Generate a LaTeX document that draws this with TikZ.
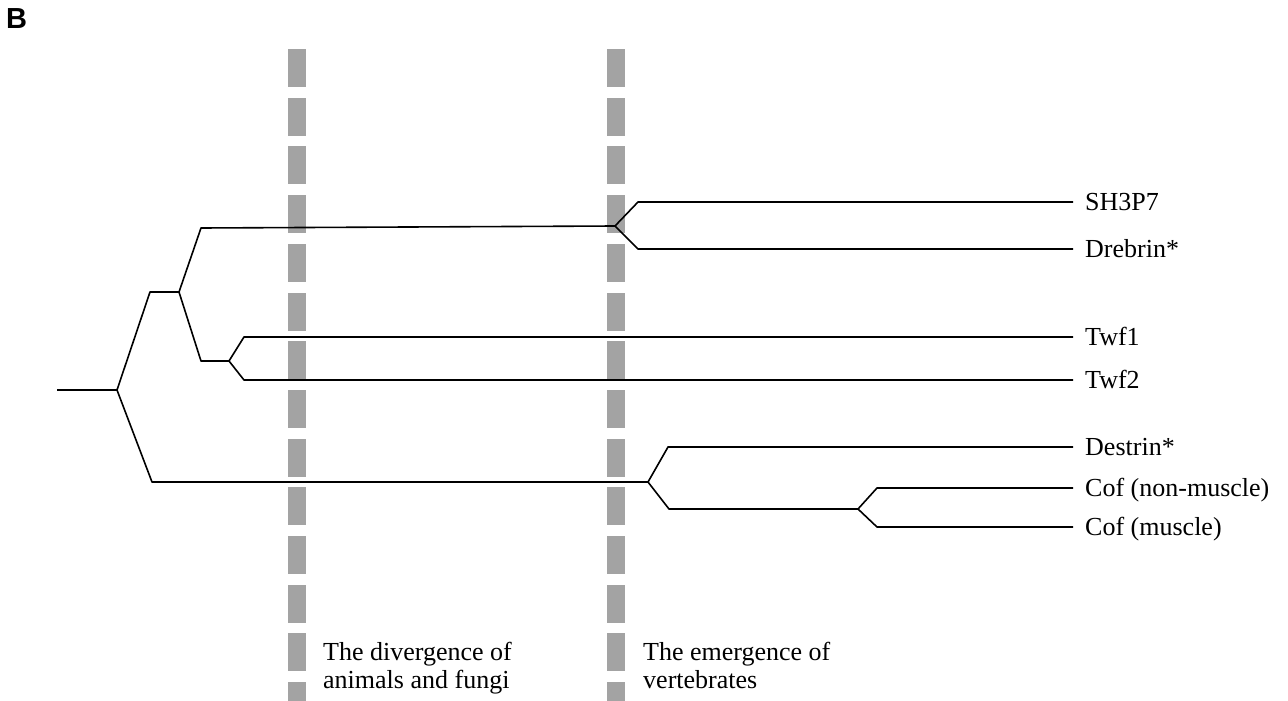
\documentclass[tikz,border=0pt]{standalone}
\usepackage{fontspec}
\setmainfont{Liberation Serif}
\newfontfamily\panelfont{Liberation Sans}
\begin{document}
\begin{tikzpicture}[x=1pt,y=-1pt,
  branch/.style={line width=1.6pt,black,line join=round},
  leaf/.style={anchor=base west,inner sep=0pt,font=\fontsize{26}{28}\selectfont},
  note/.style={anchor=base west,inner sep=0pt,font=\fontsize{26}{28}\selectfont},
  barfill/.style={fill={rgb,255:red,163;green,163;blue,163}}]
\useasboundingbox (0,0) rectangle (1288,701);

% panel letter
\node[anchor=base west,inner sep=0pt,font=\panelfont\bfseries\fontsize{29}{30}\selectfont] (panel) at (6,29) {B};

% two dashed time markers
\foreach \k in {0,...,13}{
  \pgfmathsetmacro{\ytop}{49+48.7*\k}
  \pgfmathsetmacro{\ybot}{min(\ytop+38,701)}
  \fill[barfill] (288,\ytop) rectangle (306,\ybot);
  \fill[barfill] (607,\ytop) rectangle (625,\ybot);
}

% tree junctions
\coordinate (root) at (57,390);
\coordinate (r) at (117,390);
\coordinate (a1) at (150,292);
\coordinate (a) at (179,292);
\coordinate (b1) at (201,228);
\coordinate (b) at (615,226);
\coordinate (sh) at (638,202);
\coordinate (dr) at (638,249);
\coordinate (c1) at (201,361);
\coordinate (c) at (229,361);
\coordinate (t1) at (244,337);
\coordinate (t2) at (244,380);
\coordinate (d1) at (152,482);
\coordinate (d) at (648,482);
\coordinate (de) at (668,447);
\coordinate (e1) at (669,509);
\coordinate (e) at (858,509);
\coordinate (cn) at (877,488);
\coordinate (cm) at (877,527);

% leaf ends
\coordinate (shE) at (1073,202);
\coordinate (drE) at (1073,249);
\coordinate (t1E) at (1073,337);
\coordinate (t2E) at (1073,380);
\coordinate (deE) at (1073,447);
\coordinate (cnE) at (1073,488);
\coordinate (cmE) at (1073,527);

% branches
\draw[branch] (root) -- (r) -- (a1) -- (a) -- (b1) -- (b);
\draw[branch] (shE) -- (sh) -- (b) -- (dr) -- (drE);
\draw[branch] (a) -- (c1) -- (c);
\draw[branch] (t1E) -- (t1) -- (c) -- (t2) -- (t2E);
\draw[branch] (r) -- (d1) -- (d);
\draw[branch] (deE) -- (de) -- (d) -- (e1) -- (e);
\draw[branch] (cnE) -- (cn) -- (e) -- (cm) -- (cmE);

% leaf labels
\node[leaf] (lsh) at (1085,210.5) {SH3P7};
\node[leaf] (ldr) at (1085,257.5) {Drebrin*};
\node[leaf] (lt1) at (1085,345.5) {Twf1};
\node[leaf] (lt2) at (1085,388.5) {Twf2};
\node[leaf] (lde) at (1085,455.5) {Destrin*};
\node[leaf] (lcn) at (1085,496.5) {Cof (non-muscle)};
\node[leaf] (lcm) at (1085,535.5) {Cof (muscle)};

% marker captions
\node[note] (div1) at (323,660) {The divergence of};
\node[note] (div2) at (323,688) {animals and fungi};
\node[note] (emg1) at (643,660) {The emergence of};
\node[note] (emg2) at (643,688) {vertebrates};
\end{tikzpicture}
\end{document}
